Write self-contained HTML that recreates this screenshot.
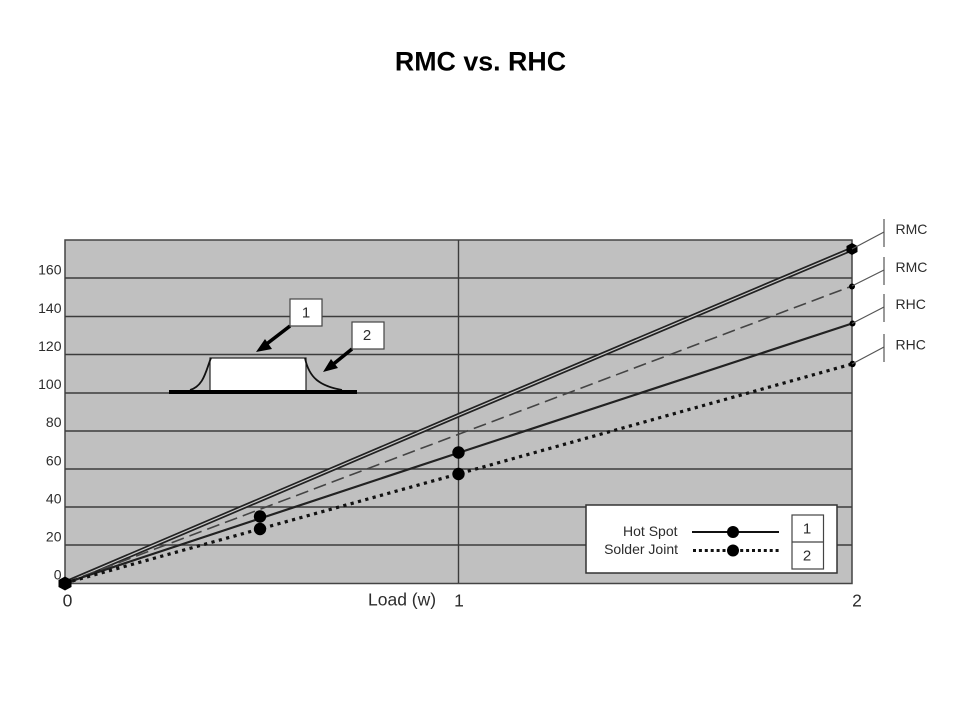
<!DOCTYPE html>
<html>
<head>
<meta charset="utf-8">
<style>
html,body{margin:0;padding:0;background:#fff;}
svg{display:block;}
text{font-family:"Liberation Sans",Arial,sans-serif;fill:#2c2c2c;}
</style>
</head>
<body>
<svg width="960" height="720" viewBox="0 0 960 720" xmlns="http://www.w3.org/2000/svg">
<rect width="960" height="720" fill="#fff"/>
<text x="480.500" y="70.500" font-size="26.800" font-weight="bold" text-anchor="middle" style="fill:#000">RMC vs. RHC</text>

<rect x="65" y="240" width="787" height="343.5" fill="#c0c0c0" stroke="#444" stroke-width="1.5"/>
<g stroke="#3c3c3c" stroke-width="1.4" fill="none">
<line x1="65" y1="278" x2="852" y2="278"/>
<line x1="65" y1="316.5" x2="852" y2="316.5"/>
<line x1="65" y1="354.5" x2="852" y2="354.5"/>
<line x1="65" y1="393" x2="852" y2="393"/>
<line x1="65" y1="431" x2="852" y2="431"/>
<line x1="65" y1="469" x2="852" y2="469"/>
<line x1="65" y1="507" x2="852" y2="507"/>
<line x1="65" y1="545" x2="852" y2="545"/>
<line x1="458.5" y1="240" x2="458.5" y2="583"/>
</g>

<!-- curves -->
<path d="M65 583 L458 415.5 L852 249" fill="none" stroke="#222" stroke-width="4.6"/>
<path d="M65 583 L458 415.5 L852 249" fill="none" stroke="#c8c8c8" stroke-width="1.2"/>
<path d="M65 583 L458 434.5 L852 286" fill="none" stroke="#444" stroke-width="1.6" stroke-dasharray="13 6"/>
<path d="M65 583 L458 453 L852 323.5" fill="none" stroke="#222" stroke-width="2.2"/>
<path d="M65 583 L458 474 L852 364" fill="none" stroke="#111" stroke-width="3.2" stroke-dasharray="3.2 4.400"/>

<!-- markers -->
<g fill="#000">
<polygon points="65,576.500 71.500,580 71.500,587 65,590.500 58.500,587 58.500,580"/>
<circle cx="260" cy="516.5" r="6.2"/>
<circle cx="260" cy="529" r="6.2"/>
<circle cx="458.5" cy="452.5" r="6.2"/>
<circle cx="458.5" cy="474" r="6.2"/>
<polygon points="852,243 857.500,246 857.500,252 852,255 846.500,252 846.500,246"/>
<circle cx="852" cy="286.5" r="3"/>
<circle cx="852.5" cy="323.5" r="3"/>
<circle cx="852.5" cy="364" r="3.2"/>
</g>

<!-- right label leaders -->
<g stroke="#555" stroke-width="1.2" fill="none">
<line x1="852" y1="249" x2="884" y2="232"/>
<line x1="852" y1="286" x2="884" y2="270"/>
<line x1="852" y1="323.5" x2="884" y2="307"/>
<line x1="852" y1="364" x2="884" y2="347"/>
<line x1="884" y1="219" x2="884" y2="247"/>
<line x1="884" y1="257" x2="884" y2="285"/>
<line x1="884" y1="294" x2="884" y2="322"/>
<line x1="884" y1="334" x2="884" y2="362"/>
</g>
<g font-size="14">
<text x="895.5" y="234">RMC</text>
<text x="895.5" y="272">RMC</text>
<text x="895.5" y="309">RHC</text>
<text x="895.5" y="349.500">RHC</text>
</g>

<!-- y axis -->
<g font-size="14" text-anchor="end">
<text x="61.500" y="274.500">160</text>
<text x="61.500" y="313">140</text>
<text x="61.500" y="351">120</text>
<text x="61.500" y="389">100</text>
<text x="61.500" y="427">80</text>
<text x="61.500" y="465.500">60</text>
<text x="61.500" y="503.500">40</text>
<text x="61.500" y="541.500">20</text>
<text x="61.500" y="579.500">0</text>
</g>

<!-- x axis -->
<g font-size="17.500">
<text x="67.500" y="606.500" text-anchor="middle">0</text>
<text x="368" y="605.500">Load (w)</text>
<text x="459" y="606.500" text-anchor="middle">1</text>
<text x="857" y="606.500" text-anchor="middle">2</text>
</g>

<!-- inset part diagram -->
<rect x="210" y="358" width="96" height="33" fill="#fff" stroke="#222" stroke-width="1.2"/>
<path d="M190 390 C204 386 206 370 211 358" fill="none" stroke="#111" stroke-width="1.8"/>
<path d="M305 358 C309 378 320 386 342 390" fill="none" stroke="#111" stroke-width="1.8"/>
<line x1="169" y1="392" x2="357" y2="392" stroke="#000" stroke-width="4"/>

<line x1="290" y1="326" x2="264" y2="346" stroke="#000" stroke-width="3.6"/>
<polygon points="256,352 265,339 272,349" fill="#000"/>
<line x1="352" y1="349" x2="331" y2="366" stroke="#000" stroke-width="3.6"/>
<polygon points="323,372 331,359 338,368" fill="#000"/>

<rect x="290" y="299" width="32" height="27" fill="#fff" stroke="#444" stroke-width="1.2"/>
<rect x="352" y="322" width="32" height="27" fill="#fff" stroke="#444" stroke-width="1.2"/>
<text x="306" y="317.500" font-size="15" text-anchor="middle">1</text>
<text x="367" y="340" font-size="15" text-anchor="middle">2</text>

<!-- legend -->
<rect x="586" y="505" width="251" height="68" fill="#fff" stroke="#333" stroke-width="1.5"/>
<text x="677.500" y="536" font-size="14" text-anchor="end">Hot Spot</text>
<text x="678" y="554" font-size="14" text-anchor="end">Solder Joint</text>
<line x1="692" y1="532" x2="779" y2="532" stroke="#111" stroke-width="2"/>
<line x1="693" y1="550.500" x2="779" y2="550.500" stroke="#111" stroke-width="3" stroke-dasharray="3 2.900"/>
<circle cx="733" cy="532" r="6" fill="#000"/>
<circle cx="733" cy="550.500" r="6" fill="#000"/>
<rect x="792" y="515" width="31.500" height="54" fill="#fff" stroke="#444" stroke-width="1.2"/>
<line x1="792" y1="542" x2="823.500" y2="542" stroke="#444" stroke-width="1.2"/>
<text x="807" y="533.500" font-size="15" text-anchor="middle">1</text>
<text x="807" y="560.500" font-size="15" text-anchor="middle">2</text>
</svg>
</body>
</html>
